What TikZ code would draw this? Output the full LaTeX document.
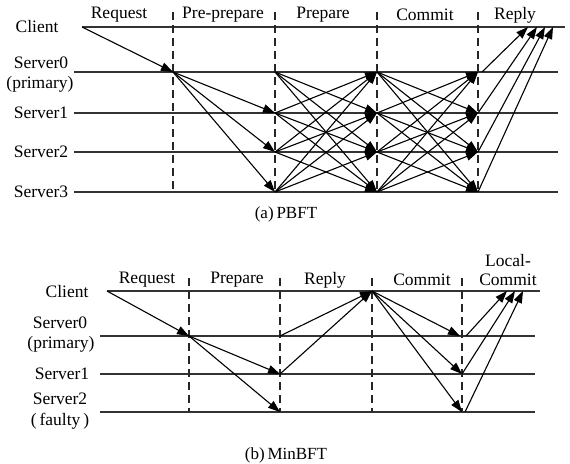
\documentclass[tikz,border=0pt]{standalone}
\usepackage{fontspec}
\setmainfont{Liberation Serif}
\usetikzlibrary{arrows.meta}
\begin{document}
\begin{tikzpicture}[x=1pt,y=-1pt,
  lane/.style={line width=1.6pt, draw=black!80},
  phase/.style={dash pattern=on 8pt off 5pt, line width=1.3pt, draw=black!85},
  msg/.style={-{Triangle[length=12pt,width=8.5pt]}, line width=1.1pt},
  lbl/.style={font=\fontsize{17.5}{19}\selectfont, inner sep=0pt},
  captext/.style={font=\fontsize{17}{19}\selectfont, inner sep=0pt},
]
\useasboundingbox (0,0) rectangle (570,463);

% ---------------- (a) PBFT ----------------
% process names
\node[lbl] (cA)  at (37,27)  {Client};
\node[lbl] (s0A) at (41,63)  {Server0};
\node[lbl] (pA)  at (40,84)  {(primary)};
\node[lbl] (s1A) at (41,113) {Server1};
\node[lbl] (s2A) at (41,152) {Server2};
\node[lbl] (s3A) at (41,192) {Server3};

% time lines
\coordinate (cAl) at (82,27);   \coordinate (cAr) at (565,27);
\draw[lane] (cAl) -- (cAr);
\foreach \i/\y in {0/72,1/113,2/152,3/192}{
  \coordinate (lA\i) at (74,\y);
  \coordinate (rA\i) at (558,\y);
  \draw[lane] (lA\i) -- (rA\i);
}

% phase separators
\foreach \k/\x in {1/173,2/275,3/377,4/478}{
  \coordinate (tA\k) at (\x,12);
  \coordinate (bA\k) at (\x,192);
  \draw[phase] (tA\k) -- (bA\k);
}

% phase names
\node[lbl] (hA1) at (119,15) {Request};
\node[lbl] (hA2) at (223,15) {Pre-prepare};
\node[lbl] (hA3) at (323,15) {Prepare};
\node[lbl] (hA4) at (425,15) {Commit};
\node[lbl] (hA5) at (515,15) {Reply};

% message end points on each server line at every separator
\foreach \i/\y in {0/72,1/113,2/152,3/192}{
  \foreach \k/\x in {1/173,2/275,3/377,4/478}{
    \coordinate (pA\i\k) at (\x,\y);
  }
}

% request
\draw[msg] (cAl) -- (pA01);
% pre-prepare
\foreach \j in {1,2,3}{ \draw[msg] (pA01) -- (pA\j2); }
% prepare and commit: all to all
\foreach \i in {0,1,2,3}{
  \foreach \j in {0,1,2,3}{
    \ifnum\i=\j\else
      \draw[msg] (pA\i2) -- (pA\j3);
      \draw[msg] (pA\i3) -- (pA\j4);
    \fi
  }
}
% reply
\coordinate (rc0) at (528,27);
\coordinate (rc1) at (537,27);
\coordinate (rc2) at (545,27);
\coordinate (rc3) at (553,27);
\coordinate (rs0) at (482,72);
\foreach \i in {1,2,3}{ \coordinate (rs\i) at (pA\i4); }
\foreach \i in {0,1,2,3}{ \draw[msg] (rs\i) -- (rc\i); }

\node[captext] (capA) at (286,214) {(a)\,PBFT};

% ---------------- (b) MinBFT ----------------
\node[lbl] (cB)  at (67,292) {Client};
\node[lbl] (s0B) at (60,323) {Server0};
\node[lbl] (pB)  at (61,344) {(primary)};
\node[lbl] (s1B) at (62,374) {Server1};
\node[lbl] (s2B) at (60,399) {Server2};
\node[lbl] (fB)  at (60,421) {(\,faulty\,)};

\coordinate (cBl) at (107,291); \coordinate (cBr) at (540,291);
\draw[lane] (cBl) -- (cBr);
\foreach \i/\y in {0/336,1/374,2/412}{
  \coordinate (lB\i) at (100,\y);
  \coordinate (rB\i) at (535,\y);
  \draw[lane] (lB\i) -- (rB\i);
}

\foreach \k/\x in {1/189,2/280,3/372,4/462}{
  \coordinate (tB\k) at (\x,278);
  \coordinate (bB\k) at (\x,412);
  \draw[phase] (tB\k) -- (bB\k);
}

\node[lbl] (hB1) at (147,280) {Request};
\node[lbl] (hB2) at (237,280) {Prepare};
\node[lbl] (hB3) at (325,280) {Reply};
\node[lbl] (hB4) at (422,280) {Commit};
\node[lbl] (hB5) at (508,261) {Local-};
\node[lbl] (hB6) at (508,280) {Commit};

\foreach \i/\y in {0/336,1/374,2/412}{
  \foreach \k/\x in {1/189,2/280,4/462}{
    \coordinate (pB\i\k) at (\x,\y);
  }
}
\coordinate (cB3) at (372,291);

% request
\draw[msg] (cBl) -- (pB01);
% prepare
\draw[msg] (pB01) -- (pB12);
\draw[msg] (pB01) -- (pB22);
% reply
\draw[msg] (pB02) -- (cB3);
\draw[msg] (pB12) -- (cB3);
% commit
\coordinate (cm0) at (460,336);
\draw[msg] (cB3) -- (cm0);
\draw[msg] (cB3) -- (pB14);
\draw[msg] (cB3) -- (pB24);
% local commit
\coordinate (lc0) at (507,291);
\coordinate (lc1) at (515,291);
\coordinate (lc2) at (523,291);
\coordinate (ls0) at (466,336);
\coordinate (ls2) at (465,412);
\draw[msg] (ls0) -- (lc0);
\draw[msg] (pB14) -- (lc1);
\draw[msg] (ls2) -- (lc2);

\node[captext] (capB) at (286,455) {(b)\,MinBFT};
\end{tikzpicture}
\end{document}
